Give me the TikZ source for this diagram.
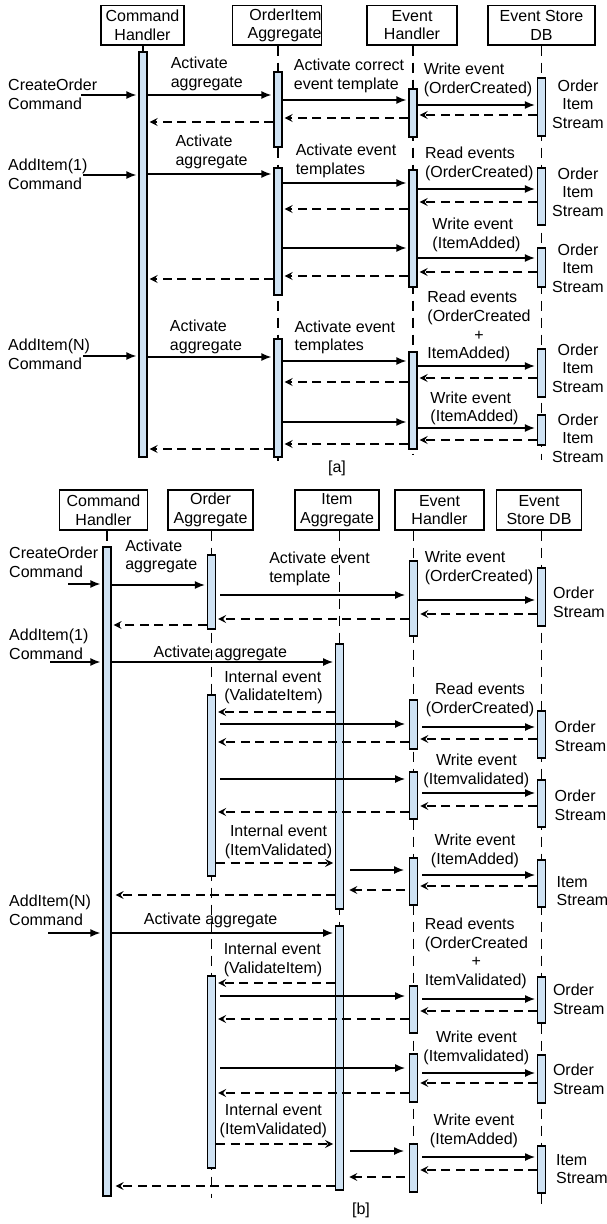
\documentclass[tikz,border=0pt]{standalone}
\usepackage{fontspec}
\setmainfont{Liberation Sans}
\usetikzlibrary{arrows.meta}
\definecolor{barfill}{HTML}{CFE2F3}
\tikzset{
  hdr/.style={draw, line width=1.3pt, inner sep=0pt, minimum height=39.5pt, align=center},
  abar/.style={draw, line width=1.3pt, fill=barfill, inner sep=0pt, minimum width=8pt},
  life/.style={line width=1.3pt, dash pattern=on 10pt off 7pt},
  msg/.style={line width=1.4pt, -{Latex[length=10pt,width=8pt]}, shorten >=2pt},
  ret/.style={line width=1.3pt, dash pattern=on 9pt off 5.5pt, -{Stealth[length=8pt,width=8pt,inset=3pt]}, shorten >=2pt},
  lbl/.style={inner sep=0pt, align=left},
  lblc/.style={inner sep=0pt, align=center},
}
\newcommand\actbar[4]{\node[abar, minimum height={((#4)-(#3))*1pt}] (#1) at (#2,{((#3)+(#4))/2}) {};}
\newcommand\sendR[4][msg]{\draw[#1] (#2.east |- 0,#4) -- (#3.west |- 0,#4);}
\newcommand\sendL[4][msg]{\draw[#1] (#2.west |- 0,#4) -- (#3.east |- 0,#4);}
\begin{document}
\begin{tikzpicture}[x=1pt,y=-1pt,font=\fontsize{16}{18.6}\selectfont]
\fill[white] (0,0) rectangle (606,1224);
\useasboundingbox (0,0) rectangle (606,1224);

% ================= headers =================
\node[hdr, minimum width=83pt] (haCH) at (142.5,25.25) {Command\\Handler};
\node[hdr, text width=89pt, align=right] (haOI) at (277,25.25) {OrderItem\\Aggregate};
\node[hdr, minimum width=90pt] (haEH) at (412,25.25) {Event\\Handler};
\node[hdr, minimum width=107pt] (haES) at (541.5,25.25) {Event Store\\DB};

\node[hdr, minimum width=88.4pt, minimum height=40pt] (hbCH) at (103.5,510) {Command\\Handler};
\node[hdr, minimum width=85pt, minimum height=40pt] (hbOA) at (210.5,510) {Order\\Aggregate};
\node[hdr, minimum width=84pt, minimum height=40pt] (hbIA) at (337,510) {Item\\Aggregate};
\node[hdr, minimum width=89pt, minimum height=40pt] (hbEH) at (439.5,510) {Event\\Handler};
\node[hdr, minimum width=85pt, minimum height=40pt] (hbES) at (539,510) {Event\\Store DB};

% ================= lifelines =================
\path (143,0) coordinate (xCHa) (278,0) coordinate (xOIa) (413,0) coordinate (xEHa) (541.5,0) coordinate (xESa);
\coordinate (eOI) at (278,461);
\coordinate (eEH) at (413,455);
\coordinate (eES) at (541.5,460);
\draw[life] (haCH.south -| xCHa) -- (xCHa |- 0,52);
\draw[life] (haOI.south -| xOIa) -- (eOI);
\draw[life] (haEH.south -| xEHa) -- (eEH);
\draw[life] (haES.south -| xESa) -- (eES);

\path (107,0) coordinate (xCHb) (211.5,0) coordinate (xOAb) (339.7,0) coordinate (xIAb)
      (413.7,0) coordinate (xEHb) (541.7,0) coordinate (xESb);
\coordinate (eOA) at (211.5,1198);
\coordinate (eESb) at (541.7,1205);
\draw[life] (hbCH.south -| xCHb) -- (xCHb |- 0,547);
\draw[life] (hbOA.south -| xOAb) -- (eOA);
\draw[life] (hbIA.south -| xIAb) -- (xIAb |- 0,1190);
\draw[life] (hbEH.south -| xEHb) -- (xEHb |- 0,1192);
\draw[life] (hbES.south -| xESb) -- (eESb);

% ================= activation bars =================
\actbar{aCH}{143}{52}{457}
\actbar{aOI1}{278}{72}{147}
\actbar{aOI2}{278}{168}{295}
\actbar{aOI3}{278}{339}{457}
\actbar{aEH1}{413}{89}{137}
\actbar{aEH2}{413}{170}{287}
\actbar{aEH3}{413}{352}{449}
\actbar{aES1}{541.5}{78}{136}
\actbar{aES2}{541.5}{168}{225}
\actbar{aES3}{541.5}{248}{287}
\actbar{aES4}{541.5}{349}{397}
\actbar{aES5}{541.5}{415}{445}

\actbar{bCH}{107}{547}{1196}
\actbar{bOA1}{211.5}{555}{629}
\actbar{bOA2}{211.5}{695}{876}
\actbar{bOA3}{211.5}{976}{1168}
\actbar{bIA1}{339.7}{644}{909}
\actbar{bIA2}{339.7}{926}{1190}
\actbar{bEH1}{413.7}{561}{636}
\actbar{bEH2}{413.7}{700}{749}
\actbar{bEH3}{413.7}{772}{819}
\actbar{bEH4}{413.7}{858}{905}
\actbar{bEH5}{413.7}{986}{1033}
\actbar{bEH6}{413.7}{1054}{1102}
\actbar{bEH7}{413.7}{1144}{1192}
\actbar{bES1}{541.7}{568}{626}
\actbar{bES2}{541.7}{711}{758}
\actbar{bES3}{541.7}{780}{827}
\actbar{bES4}{541.7}{860}{907}
\actbar{bES5}{541.7}{977}{1023}
\actbar{bES6}{541.7}{1055}{1103}
\actbar{bES7}{541.7}{1146}{1193}

% ----- [a] messages -----
\coordinate (xa1) at (81,95);
\coordinate (xa2) at (83,175);
\coordinate (xa3) at (83,356);
\draw[msg] (xa1) -- (aCH.west |- xa1);
\draw[msg] (xa2) -- (aCH.west |- xa2);
\draw[msg] (xa3) -- (aCH.west |- xa3);

\sendR{aCH}{aOI1}{95}
\sendR{aOI1}{aEH1}{100}
\sendR{aEH1}{aES1}{105}
\sendL[ret]{aES1}{aEH1}{115}
\sendL[ret]{aEH1}{aOI1}{118}
\sendL[ret]{aOI1}{aCH}{122}
\sendR{aCH}{aOI2}{174}
\sendR{aOI2}{aEH2}{183}
\sendR{aEH2}{aES2}{189}
\sendL[ret]{aES2}{aEH2}{202}
\sendL[ret]{aEH2}{aOI2}{209}
\sendR{aOI2}{aEH2}{248}
\sendR{aEH2}{aES3}{258}
\sendL[ret]{aES3}{aEH2}{272}
\sendL[ret]{aEH2}{aOI2}{276}
\sendL[ret]{aOI2}{aCH}{279}
\sendR{aCH}{aOI3}{357}
\sendR{aOI3}{aEH3}{361}
\sendR{aEH3}{aES4}{366}
\sendL[ret]{aES4}{aEH3}{378}
\sendL[ret]{aEH3}{aOI3}{382}
\sendR{aOI3}{aEH3}{422}
\sendR{aEH3}{aES5}{428}
\sendL[ret]{aES5}{aEH3}{440}
\sendL[ret]{aEH3}{aOI3}{444}
\sendL[ret]{aOI3}{aCH}{449}

% ----- [a] labels -----
\node[lbl, anchor=west] (la1) at (8,94) {CreateOrder\\Command};
\node[lbl] (la2) at (206.8,74) {Activate\\aggregate};
\node[lbl] (la3) at (349,76) {Activate correct\\event template};
\node[lbl] (la4) at (478,80) {Write event\\(OrderCreated)};
\node[lblc] (la5) at (578,104) {Order\\Item\\Stream};
\node[lbl, anchor=west] (la6) at (8,174) {AddItem(1)\\Command};
\node[lbl] (la7) at (211.6,152) {Activate\\aggregate};
\node[lbl] (la8) at (346,161) {Activate event\\templates};
\node[lbl] (la9) at (479.3,164) {Read events\\(OrderCreated)};
\node[lblc] (la10) at (578,192) {Order\\Item\\Stream};
\node[lbl] (la11) at (476.5,235) {Write event\\(ItemAdded)};
\node[lblc] (la12) at (578,268) {Order\\Item\\Stream};
\node[lbl, anchor=west] (la13) at (8,354) {AddItem(N)\\Command};
\node[lbl] (la14) at (206,337) {Activate\\aggregate};
\node[lbl] (la15) at (344.8,337.5) {Activate event\\templates};
\node[inner sep=0pt] (la16) at (479,327) {\begin{tabular}{@{}l@{}}Read events\\(OrderCreated\\\multicolumn{1}{@{}c@{}}{+}\\ItemAdded)\end{tabular}};
\node[lblc] (la17) at (578,368) {Order\\Item\\Stream};
\node[lbl] (la18) at (474.5,408.5) {Write event\\(ItemAdded)};
\node[lblc] (la19) at (578,438) {Order\\Item\\Stream};
\node[inner sep=0pt] (capa) at (337,468) {[a]};

% ----- [b] messages -----
\coordinate (xb1) at (68,584);
\coordinate (xb2) at (50,662);
\coordinate (xb3) at (48,933);
\draw[msg] (xb1) -- (bCH.west |- xb1);
\draw[msg] (xb2) -- (bCH.west |- xb2);
\draw[msg] (xb3) -- (bCH.west |- xb3);

\sendR{bCH}{bOA1}{585}
\sendR[msg,shorten <=4pt,shorten >=4pt]{bOA1}{bEH1}{595}
\sendR{bEH1}{bES1}{600}
\sendL[ret]{bES1}{bEH1}{614}
\sendL[ret]{bEH1}{bOA1}{619}
\sendL[ret]{bOA1}{bCH}{625}
\sendR{bCH}{bIA1}{662}
\sendL[ret]{bIA1}{bOA2}{712}
\sendR[msg,shorten <=4pt,shorten >=4pt]{bOA2}{bEH2}{724}
\sendR[msg,shorten <=4pt]{bEH2}{bES2}{727}
\sendL[ret]{bES2}{bEH2}{739}
\sendL[ret]{bEH2}{bOA2}{742}
\sendR[msg,shorten <=4pt,shorten >=4pt]{bOA2}{bEH3}{779}
\sendR[msg,shorten <=4pt]{bEH3}{bES3}{793}
\sendL[ret]{bES3}{bEH3}{806}
\sendL[ret]{bEH3}{bOA2}{812}
\sendR[ret]{bOA2}{bIA1}{863}
\sendR[msg,shorten <=6pt,shorten >=5pt]{bIA1}{bEH4}{870}
\sendR[msg,shorten <=4pt]{bEH4}{bES4}{875}
\sendL[ret]{bES4}{bEH4}{886}
\sendL[ret,shorten <=4pt,shorten >=5pt]{bEH4}{bIA1}{890}
\sendL[ret,shorten >=4pt]{bIA1}{bCH}{895}
\sendR{bCH}{bIA2}{933}
\sendL[ret]{bIA2}{bOA3}{983}
\sendR[msg,shorten <=4pt,shorten >=4pt]{bOA3}{bEH5}{996}
\sendR[msg,shorten <=4pt]{bEH5}{bES5}{999}
\sendL[ret]{bES5}{bEH5}{1011}
\sendL[ret]{bEH5}{bOA3}{1019}
\sendR[msg,shorten <=4pt,shorten >=4pt]{bOA3}{bEH6}{1068}
\sendR[msg,shorten <=4pt]{bEH6}{bES6}{1073}
\sendL[ret]{bES6}{bEH6}{1083}
\sendL[ret]{bEH6}{bOA3}{1093}
\sendR[ret]{bOA3}{bIA2}{1144}
\sendR[msg,shorten <=6pt,shorten >=5pt]{bIA2}{bEH7}{1151}
\sendR[msg,shorten <=4pt]{bEH7}{bES7}{1157}
\sendL[ret]{bES7}{bEH7}{1170}
\sendL[ret,shorten <=4pt,shorten >=5pt]{bEH7}{bIA2}{1177}
\sendL[ret,shorten >=4pt]{bIA2}{bCH}{1186}

% ----- [b] labels -----
\node[lbl, anchor=west] (lb1) at (9,562) {CreateOrder\\Command};
\node[lbl] (lb2) at (161.3,556.5) {Activate\\aggregate};
\node[lbl] (lb3) at (319.5,569) {Activate event\\template};
\node[lbl] (lb4) at (479,568) {Write event\\(OrderCreated)};
\node[lbl, anchor=west] (lb5) at (553,602) {Order\\Stream};
\node[lbl, anchor=west] (lb6) at (9,644) {AddItem(1)\\Command};
\node[lbl] (lb7) at (220.3,653) {Activate aggregate};
\node[lbl] (lb8) at (273.5,687.5) {Internal event\\(ValidateItem)};
\node[lblc] (lb9) at (480,700) {Read events\\(OrderCreated)};
\node[lbl, anchor=west] (lb10) at (554.5,736) {Order\\Stream};
\node[lblc] (lb11) at (476.4,771) {Write event\\(Itemvalidated)};
\node[lbl, anchor=west] (lb12) at (554.5,805) {Order\\Stream};
\node[lblc] (lb13) at (278.5,842) {Internal event\\(ItemValidated)};
\node[lblc] (lb14) at (475,851) {Write event\\(ItemAdded)};
\node[lbl, anchor=west] (lb15) at (556.5,891) {Item\\Stream};
\node[lbl, anchor=west] (lb16) at (9,910.5) {AddItem(N)\\Command};
\node[lbl] (lb17) at (210.7,920) {Activate aggregate};
\node[lbl] (lb18) at (273,960) {Internal event\\(ValidateItem)};
\node[inner sep=0pt] (lb19) at (476.4,953.6) {\begin{tabular}{@{}l@{}}Read events\\(OrderCreated\\\multicolumn{1}{@{}c@{}}{+}\\ItemValidated)\end{tabular}};
\node[lbl, anchor=west] (lb20) at (552.8,999) {Order\\Stream};
\node[lblc] (lb21) at (476.4,1048) {Write event\\(Itemvalidated)};
\node[lbl, anchor=west] (lb22) at (552.8,1079) {Order\\Stream};
\node[lblc] (lb23) at (273.4,1121) {Internal event\\(ItemValidated)};
\node[lblc] (lb24) at (474,1131) {Write event\\(ItemAdded)};
\node[lbl, anchor=west] (lb25) at (556,1169) {Item\\Stream};
\node[inner sep=0pt] (capb) at (361,1210) {[b]};
\end{tikzpicture}
\end{document}
